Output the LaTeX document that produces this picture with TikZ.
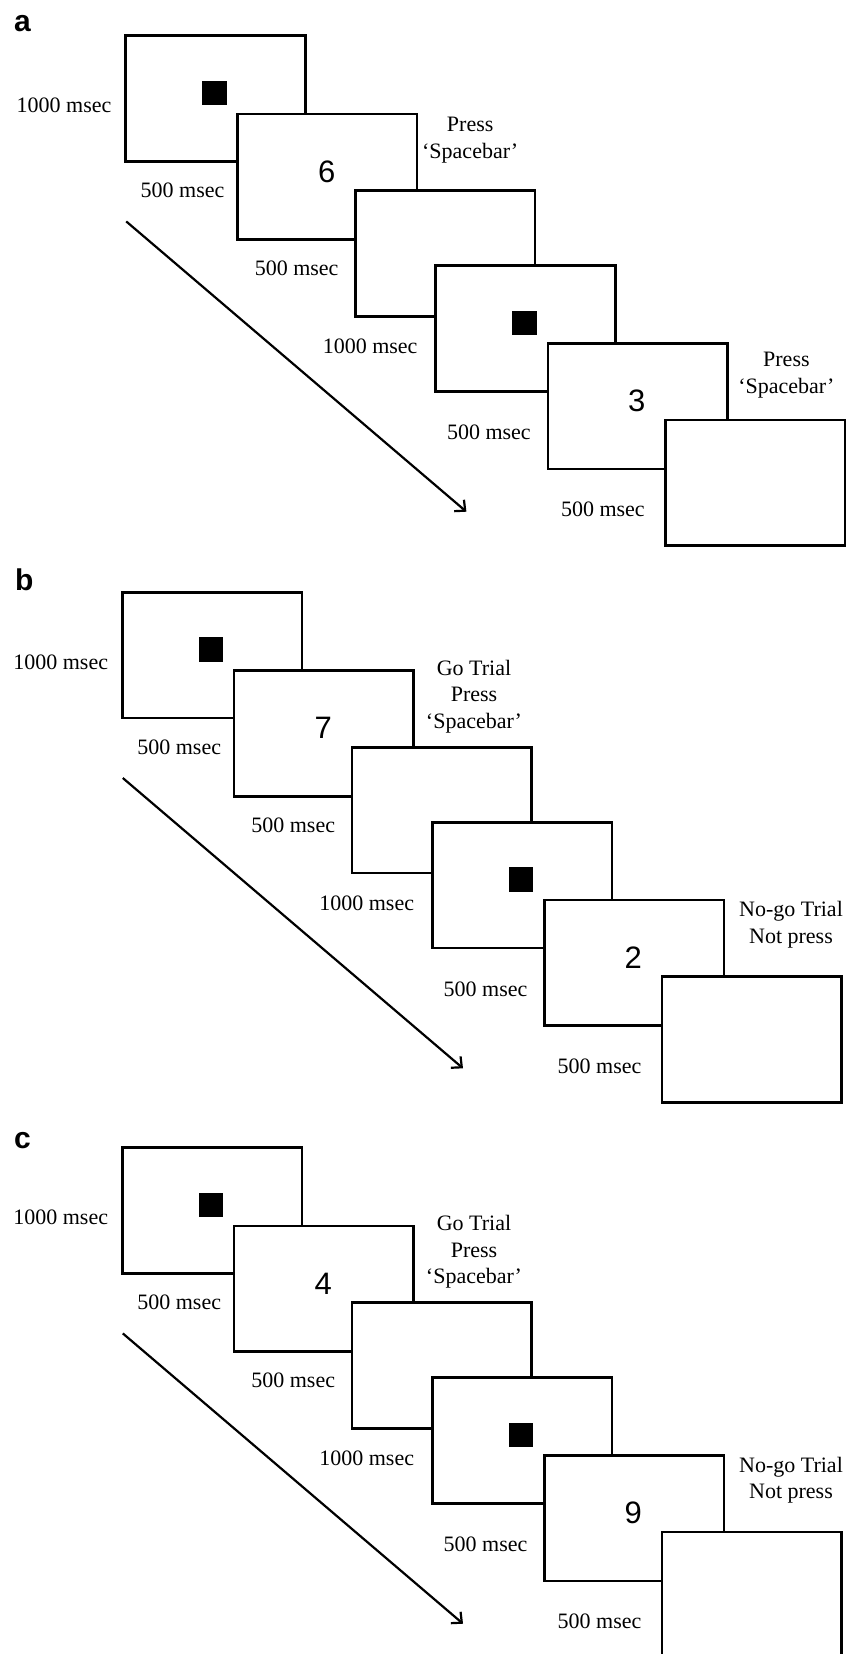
\documentclass[tikz,border=0pt]{standalone}
\usepackage{fontspec}
\setmainfont{Liberation Serif}
\newfontfamily\sansdigits{Liberation Sans}
\usetikzlibrary{arrows.meta}
\tikzset{
  screen/.style={draw, line width=2.6pt, fill=white, minimum width=179.5pt, minimum height=125.5pt, inner sep=0pt, outer sep=0pt},
  cue/.style={fill=black, minimum size=24.5pt, inner sep=0pt, outer sep=0pt},
  numtext/.style={font=\sansdigits\fontsize{31}{31}\selectfont, inner sep=0pt},
  dur/.style={font=\fontsize{22}{26.5}\selectfont, inner sep=0pt},
  resp/.style={font=\fontsize{22}{26.5}\selectfont, inner sep=0pt, align=center},
  plabel/.style={font=\sansdigits\bfseries\fontsize{30}{30}\selectfont, anchor=base west, inner sep=0pt},
  timeline/.style={line width=2.2pt, -{Straight Barb[length=8pt,width=15pt,line width=2.2pt]}}
}
% #1 prefix, #2 origin, #3 first digit, #4 second digit,
% #5 first response text, #6 its centre, #7 second response text, #8 its centre
\newcommand\trialpanel[8]{%
\begin{scope}[shift={#2}]
  \node[screen] (#1s1) at (89.75,62.75) {};
  \node[cue] (#1q1) at (88.75,57.25) {};
  \node[screen] (#1s2) at (201.45,141.15) {};
  \node[numtext] (#1d2) at (201,136) {#3};
  \node[screen] (#1s3) at (319.45,217.75) {};
  \node[screen] (#1s4) at (399.75,292.75) {};
  \node[cue] (#1q4) at (398.75,287.25) {};
  \node[screen] (#1s5) at (511.85,370.45) {};
  \node[numtext] (#1d5) at (511,365.5) {#4};
  \node[screen] (#1s6) at (629.55,447.15) {};
  \node[dur] (#1t1) at (-61.6,69.8) {1000 msec};
  \node[dur] (#1t2) at (56.9,155) {500 msec};
  \node[dur] (#1t3) at (170.9,232.7) {500 msec};
  \node[dur] (#1t4) at (244.4,311) {1000 msec};
  \node[dur] (#1t5) at (363.2,396.7) {500 msec};
  \node[dur] (#1t6) at (477.2,473.7) {500 msec};
  \node[resp] (#1r1) at #6 {#5};
  \node[resp] (#1r2) at #8 {#7};
  \coordinate (#1a0) at (0.5,185.7);
  \coordinate (#1a1) at (340.7,476);
  \draw[timeline] (#1a0) -- (#1a1);
\end{scope}}
\begin{document}
\begin{tikzpicture}[x=1pt,y=-1pt]
\useasboundingbox (0,0) rectangle (846,1654);
\clip (0,0) rectangle (846,1654);
\fill[white] (0,0) rectangle (846,1654);
\node[plabel] (la) at (14,32) {a};
\node[plabel] (lb) at (15,590) {b};
\node[plabel] (lc) at (14,1148) {c};
\trialpanel{pa}{(125.7,35.7)}{6}{3}{Press\\`Spacebar'}{(344.5,104.6)}{Press\\`Spacebar'}{(660.7,339.3)}
\trialpanel{pb}{(122.3,592.3)}{7}{2}{Go Trial\\Press\\`Spacebar'}{(351.7,104)}{No-go Trial\\Not press}{(668.7,332.3)}
\trialpanel{pc}{(122.3,1147.7)}{4}{9}{Go Trial\\Press\\`Spacebar'}{(351.7,104)}{No-go Trial\\Not press}{(668.7,332.3)}
\end{tikzpicture}
\end{document}
